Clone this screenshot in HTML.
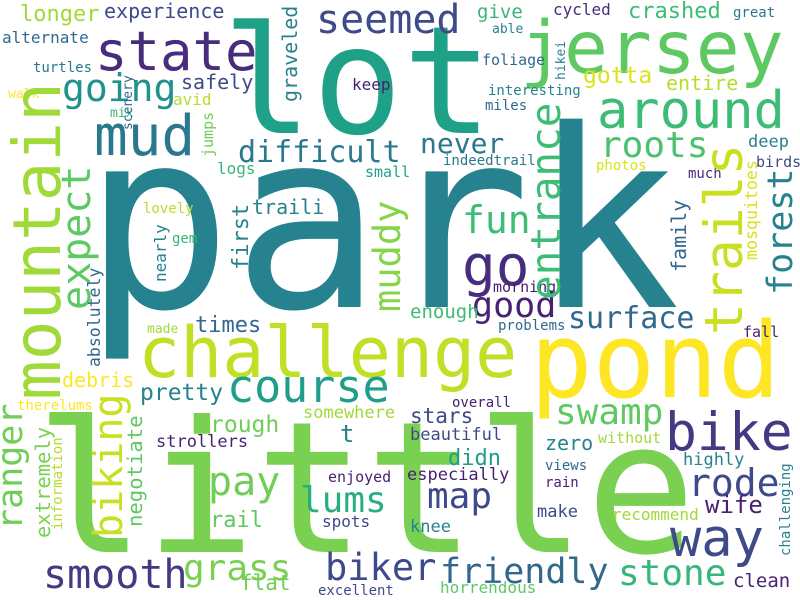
<!DOCTYPE html>
<html><head><meta charset="utf-8"><style>
html,body{margin:0;padding:0;background:#fff;}
svg{display:block;}
text{font-family:"DejaVu Sans Mono","Liberation Mono",monospace;}
</style></head><body>
<svg id="cloud" width="800" height="600" viewBox="0 0 800 600" xmlns="http://www.w3.org/2000/svg">
<rect width="800" height="600" fill="#ffffff"/>
</svg>
<script>
const words = ["park","little","lot","jersey","state","mud","going","seemed","longer","experience","alternate","turtles","walk","safely","avid","mix","difficult","logs","small","traili","lovely","gem","keep","never","give","cycled","crashed","great","able","foliage","gotta","entire","interesting","miles","around","roots","deep","birds","indeedtrail","photos","much","fun","go","challenge","course","times","made","debris","pretty","therelums","rough","somewhere","t","strollers","pay","lums","enjoyed","rail","spots","smooth","grass","flat","excellent","biker","friendly","horrendous","stone","clean","good","surface","enough","problems","morning","pond","fall","overall","swamp","bike","stars","beautiful","without","zero","didn","highly","views","especially","rain","rode","map","wife","make","recommend","knee","way",
"mountain","entrance","trails","forest","family","mosquitoes","hikei","scenery","graveled","jumps","expect","first","nearly","muddy","absolutely","ranger","biking","extremely","information","negotiate","challenging"];
const xs = [83,35,222,520,95,94,62,316,20,104,2,33,8,181,173,110,238,217,365,252,143,172,352,420,477,553,628,733,492,482,583,666,488,485,597,600,748,756,443,596,688,462,462,138,227,195,147,62,140,17,210,303,340,156,208,300,328,210,322,43,183,240,318,325,440,440,618,733,472,568,410,498,493,530,743,452,555,665,410,410,598,545,448,683,545,407,545,688,427,705,537,612,410,670,
60,560,742,792,686,757,565,132,297,213,90,248,166,400,100,22,122,50,62,142,790];
const ys = [307,552,133,73,70,155,101,33,21,18,43,72,98,89,105,117,162,174,177,214,213,243,90,153,18,15,18,17,33,65,83,90,95,110,128,157,147,167,165,170,178,233,285,377,402,332,333,387,400,410,432,418,442,447,495,512,482,527,527,588,580,590,595,580,583,593,585,587,317,328,318,330,292,397,337,407,424,450,423,440,443,450,465,465,470,480,487,496,508,513,517,520,532,556,
400,300,335,295,272,260,80,130,102,157,310,270,282,312,367,530,538,538,530,527,556];
const sizes = [248,183,150,73,54,56,38,40,22,20,16,14,13,20,16,13,30,16,15,20,14,14,16,28,19,16,22,14,13,15,23,20,14,14,52,36,17,15,14,14,14,38,56,70,45,22,13,20,23,14,23,17,24,17,40,36,15,22,16,40,36,21,14,37,35,16,36,19,35,30,19,14,15,104,15,14,36,53,21,17,15,20,22,17,14,17,14,38,36,24,17,16,17,52,
66,41,53,35,20,16.6,13,13,20,15,40,22,16,37,16.5,35,40,20.5,14,20.6,14];
const colors = ["#25828e","#7ad151","#1fa187","#5ec962","#472d7b","#2a788e","#21918c","#3e4a89","#a0da39","#3e4a89","#31688e","#2a788e","#fde725","#3e4a89","#b5de2b","#35b779","#2a788e","#35b779","#1fa187","#26828e","#b5de2b","#35b779","#482173","#2a788e","#35b779","#472d7b","#3cbc75","#2a788e","#26828e","#31688e","#dde318","#b5de2b","#26828e","#31688e","#3cbc75","#4ac16d","#26828e","#3e4a89","#2a788e","#d8e219","#472d7b","#3cbc75","#472d7b","#c0df25","#1f9e89","#31688e","#a0da39","#fde725","#26828e","#fde725","#6ece58","#a0da39","#26828e","#482173","#6ece58","#29af7f","#482173","#5ec962","#3e4a89","#443983","#7ad151","#6ece58","#3e4a89","#3e4a89","#31688e","#5ec962","#35b779","#482173","#482173","#31688e","#3cbc75","#31688e","#482173","#fde725","#482173","#482173","#5ec962","#443983","#3e4a89","#3e4a89","#a0da39","#26828e","#1f9e89","#26828e","#31688e","#482173","#482173","#3e4a89","#3e4a89","#482173","#3e4a89","#a0da39","#26828e","#3e4a89",
"#a0da39","#3cbc75","#c8e020","#26828e","#31688e","#d8e219","#26828e","#31688e","#26828e","#6ece58","#5ec962","#26828e","#26828e","#86d549","#31688e","#6ece58","#c8e020","#7ad151","#b5de2b","#5ec962","#26828e"];
const vertical = [];
for (let i = 0; i < words.length; i++) vertical.push(i >= 94);

const svg = document.getElementById('cloud');
const NS = 'http://www.w3.org/2000/svg';
for (let i = 0; i < words.length; i++) {
  const t = document.createElementNS(NS, 'text');
  t.textContent = words[i];
  t.setAttribute('font-size', sizes[i]);
  t.setAttribute('fill', colors[i]);
  if (vertical[i]) {
    t.setAttribute('transform', 'translate(' + xs[i] + ',' + ys[i] + ') rotate(-90)');
  } else {
    t.setAttribute('x', xs[i]);
    t.setAttribute('y', ys[i]);
  }
  
  
  svg.appendChild(t);
}
</script>
</body></html>
